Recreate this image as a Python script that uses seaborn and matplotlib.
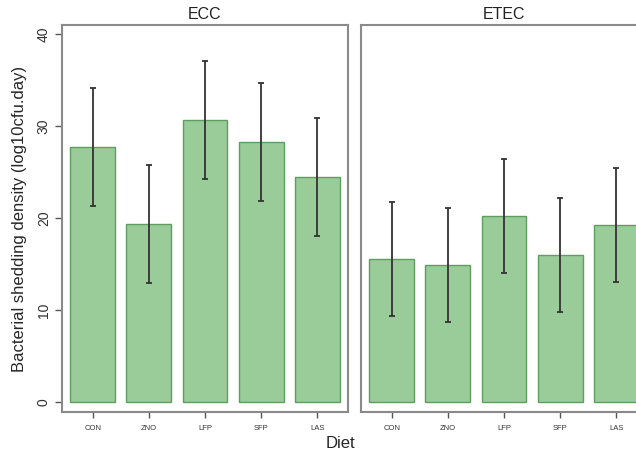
import matplotlib
matplotlib.use("Agg")
import matplotlib.pyplot as plt
import seaborn as sns
import pandas as pd

diets = ["CON", "ZNO", "LFP", "SFP", "LAS"]
ecc_mean = [27.7, 19.35, 30.65, 28.25, 24.45]
ecc_err = [6.4, 6.4, 6.4, 6.4, 6.4]
etec_mean = [15.5, 14.9, 20.2, 16.0, 19.25]
etec_err = [6.2, 6.2, 6.2, 6.2, 6.2]
panels = ["ECC", "ETEC"]

sns.set_style("white")
plt.rcParams["font.family"] = ["Liberation Sans", "DejaVu Sans"]

fig = plt.figure(figsize=(6.36, 4.54), dpi=100)
W, H = 636, 454
frame_col = "#8a8a8a"
bar_col = "#99cc99"
edge_col = "#5e9e5e"

def add_panel(left, title, means, errs):
    ax = fig.add_axes([left / W, 1 - 412 / H, 286 / W, (412 - 25) / H])
    df = pd.DataFrame({"Diet": diets, "value": means})
    sns.barplot(data=df, x="Diet", y="value", order=diets, color=bar_col,
                edgecolor=edge_col, linewidth=1.0, width=0.8, saturation=1,
                errorbar=None, ax=ax)
    ax.errorbar(range(len(diets)), means, yerr=errs, fmt="none",
                ecolor="#333333", elinewidth=1.3, capsize=2.3, capthick=1.3)
    ax.set_xlim(-0.55, 4.55)
    ax.set_ylim(-1.1, 41)
    for s in ax.spines.values():
        s.set_color(frame_col)
        s.set_linewidth(1.5)
    ax.set_xlabel("")
    ax.set_ylabel("")
    ax.set_title(title, fontsize=11.5, pad=4, color="#222222")
    ax.tick_params(axis="x", length=4, width=1, color="#555555",
                   labelsize=5.5, pad=5, bottom=True, labelcolor="#333333")
    return ax

ax1 = add_panel(62, panels[0], ecc_mean, ecc_err)
ax1.set_yticks([0, 10, 20, 30, 40])
ax1.tick_params(axis="y", length=5, width=1, color="#555555", labelsize=10,
                left=True, labelrotation=90, pad=3, labelcolor="#333333")
for t in ax1.get_yticklabels():
    t.set_va("center")
ax1.set_ylabel("Bacterial shedding density (log10cfu.day)", fontsize=12,
               labelpad=7)

ax2 = add_panel(361, panels[1], etec_mean, etec_err)
ax2.set_yticks([])

fig.text(340 / W, 1 - 443 / H, "Diet", fontsize=12, ha="center", va="center")

fig.savefig("out.png", dpi=100)
